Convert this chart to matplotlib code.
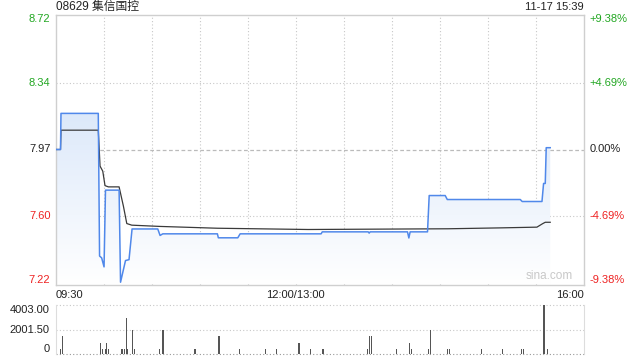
import numpy as np
import matplotlib
matplotlib.use("Agg")
import matplotlib.pyplot as plt
from matplotlib.patches import Polygon

plt.rcParams['font.family'] = ['Liberation Sans', 'Noto Sans CJK SC', 'DejaVu Sans']

# ---------------- data ----------------
title = "08629 集信国控"
stamp = "11-17 15:39"
prev_close = 7.97
price_ticks = [7.22, 7.60, 7.97, 8.34, 8.72]
pct_labels = ["-9.38%", "-4.69%", "0.00%", "+4.69%", "+9.38%"]
time_labels = ["09:30", "12:00/13:00", "16:00"]

# minutes since 09:30 on the trading clock (lunch removed)
price_t = [0, 3, 3.3, 26.6, 27.4, 28.7, 30.2, 31.1, 39.6, 40.5, 43.6, 45.8, 47.7,
           63.75, 65.2, 66.9, 101, 101.6, 113.75, 115.2, 165.8, 166.5, 195.2, 195.8,
           196.4, 219.75, 220.6, 221.4, 232.25, 233.3, 243.3, 244.6, 290.2, 291.4,
           303.75, 304.75, 305.8, 306.4, 308.9]
price_v = [7.97, 7.97, 8.17, 8.17, 7.38, 7.37, 7.32, 7.745, 7.745, 7.235, 7.355, 7.36, 7.53,
           7.53, 7.494, 7.503, 7.503, 7.481, 7.481, 7.503, 7.503, 7.514, 7.514, 7.507,
           7.514, 7.514, 7.48, 7.514, 7.514, 7.715, 7.715, 7.693, 7.693, 7.682,
           7.682, 7.782, 7.782, 7.98, 7.98]

avg_t = [0, 3, 3.3, 26.6, 27.7, 29.4, 30.8, 32.9, 39.6, 42.3, 44.4, 47.5, 65.2, 101,
         157.7, 245, 278, 300.6, 304.1, 305.8, 308.9]
avg_v = [7.97, 7.97, 8.077, 8.077, 7.878, 7.85, 7.77, 7.763, 7.763, 7.656, 7.56, 7.551,
         7.544, 7.534, 7.527, 7.531, 7.536, 7.540, 7.559, 7.567, 7.567]

vol_t = [3, 4, 28, 29, 31, 32, 33, 41, 42, 43, 44, 45, 48, 49, 65, 67, 87, 102, 115,
         131, 138, 152, 159, 167, 195, 196, 197, 213, 221, 222, 233, 234, 245, 246,
         266, 279, 291, 292, 305, 307]
vol_v = [430, 1515, 920, 430, 430, 920, 430, 430, 430, 430, 2950, 430, 1975, 430, 430,
         1975, 430, 1490, 430, 430, 430, 920, 430, 430, 430, 1490, 1490, 430, 920, 430,
         430, 1975, 430, 430, 430, 430, 430, 430, 4003, 430]
vol_ticks = [0, 2001.5, 4003]
vol_labels = ["0", "2001.50", "4003.00"]

# ---------------- figure ----------------
W, H = 640, 360
fig = plt.figure(figsize=(W / 100, H / 100), dpi=100)

def rect(x0, y0, x1, y1):
    return [x0 / W, 1 - y1 / H, (x1 - x0) / W, (y1 - y0) / H]

ax = fig.add_axes(rect(55.7, 14.5, 584, 284.5))
axv = fig.add_axes(rect(55.7, 305, 584, 354.3))

T = 330
ylo = prev_close * (1 - 0.0938)
yhi = prev_close * (1 + 0.0938)
ax.set_xlim(0, T)
ax.set_ylim(ylo, yhi)

grid_col = "#c8c8c8"
for v in [price_ticks[1], price_ticks[3]]:
    ax.axhline(v, color=grid_col, lw=0.8, ls=(0, (1, 2)), zorder=1)
ax.axhline(prev_close, color="#bbbbbb", lw=0.9, ls=(0, (3, 2)), zorder=1)
for m in range(30, T, 30):
    ax.axvline(m, color=grid_col, lw=0.8, ls=(0, (1, 2)), zorder=1)

# gradient fill under price line
pts = list(zip(price_t, price_v)) + [(price_t[-1], ylo), (price_t[0], ylo)]
poly = Polygon(pts, closed=True, facecolor="none", edgecolor="none")
ax.add_patch(poly)
grad = np.linspace(0, 1, 256).reshape(-1, 1)
top = np.array([0.86, 0.91, 0.98])
bot = np.array([1.0, 1.0, 1.0])
img = top[None, None, :] * (1 - grad[:, :, None]) + bot[None, None, :] * grad[:, :, None]
im = ax.imshow(img, extent=[0, T, ylo, 8.2], origin="upper", aspect="auto", zorder=2)
im.set_clip_path(poly)

ax.plot(price_t, price_v, color="#5088ea", lw=1.1, zorder=4)
ax.plot(avg_t, avg_v, color="#3a3a3a", lw=0.9, zorder=3)

ax.set_xticks([])
ax.set_yticks([])
for s in ax.spines.values():
    s.set_color("#cfcfcf")
    s.set_linewidth(1)

# y labels
fs = 8
for i, (v, p) in enumerate(zip(price_ticks, pct_labels)):
    if v > prev_close + 0.01:
        c = "#22a722"
    elif v < prev_close - 0.01:
        c = "#ee2222"
    else:
        c = "#222222"
    va = "center"
    if i == 0:
        va = "bottom"
    if i == len(price_ticks) - 1:
        va = "top"
    ax.text(-0.01, (v - ylo) / (yhi - ylo), f"{v:.2f}", transform=ax.transAxes,
            ha="right", va=va, color=c, fontsize=fs)
    ax.text(1.01, (v - ylo) / (yhi - ylo), p, transform=ax.transAxes,
            ha="left", va=va, color=c, fontsize=fs)

# time labels
ax.text(0, -0.02, time_labels[0], transform=ax.transAxes, ha="left", va="top", fontsize=fs, color="#222222")
ax.text(150 / T, -0.02, time_labels[1], transform=ax.transAxes, ha="center", va="top", fontsize=fs, color="#222222")
ax.text(1, -0.02, time_labels[2], transform=ax.transAxes, ha="right", va="top", fontsize=fs, color="#222222")

ax.text(0, 1 + 7.5 / 270, title, transform=ax.transAxes, ha="left", va="center", fontsize=8.5, color="#222222")
ax.text(1, 1 + 7.5 / 270, stamp, transform=ax.transAxes, ha="right", va="center", fontsize=8, color="#222222")
ax.text(0.935, 0.01, "sina.com", transform=ax.transAxes, ha="center", va="bottom",
        fontsize=8.5, color="#c8c8c8", zorder=5)

# volume
axv.set_xlim(0, T)
axv.set_ylim(0, 4003)
axv.bar(vol_t, vol_v, width=0.7, color="#555555", zorder=3)
for v in vol_ticks:
    axv.axhline(v, color=grid_col if v else "#999999", lw=0.8, ls=(0, (1, 2)), zorder=1,
                clip_on=False)
axv.set_xticks([])
axv.set_yticks([])
for k, s in axv.spines.items():
    if k in ("top", "bottom"):
        s.set_visible(False)
    else:
        s.set_color("#dddddd")
for v, l in zip(vol_ticks, vol_labels):
    va = "center"
    if v == 0:
        va = "bottom"
    elif v == 4003:
        va = "top"
    axv.text(-0.012, v / 4003, l, transform=axv.transAxes, ha="right",
             va=va, fontsize=fs, color="#222222")

fig.savefig("out.png", dpi=100)
